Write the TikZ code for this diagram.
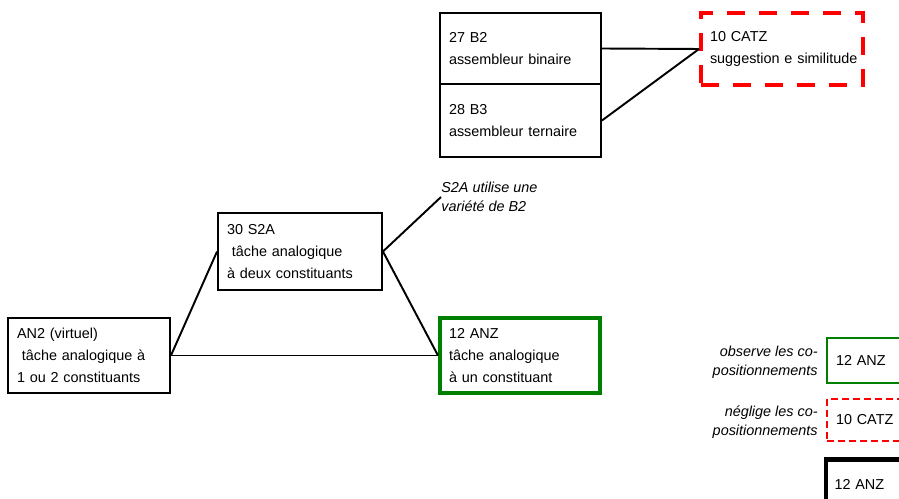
\documentclass[tikz,border=0pt]{standalone}
\usepackage{fontspec}
\setmainfont{Liberation Sans}
\usepackage{tikz}
\usetikzlibrary{positioning}
\definecolor{boxgreen}{RGB}{0,128,0}
\definecolor{boxred}{RGB}{255,0,0}

\begin{document}
\begin{tikzpicture}[
    x=0.02cm, y=-0.02cm,
    every node/.style={font=\fontsize{8.2}{12.5}\selectfont},
    taskbox/.style={rectangle, draw=black, line width=1.1pt, align=left,
        inner xsep=0.18cm, inner ysep=0pt},
    seenbox/.style={taskbox, draw=boxgreen, line width=2.3pt},
    skipbox/.style={taskbox, draw=boxred, line width=2.3pt,
        dash pattern=on 0.36cm off 0.28cm},
    notetext/.style={font=\itshape\fontsize{8.2}{11}\selectfont, inner sep=0pt},
    link/.style={line width=1.1pt}
]
    \useasboundingbox (0,0) rectangle (899,499);
    \clip (0,0) rectangle (899,499);

    % assembleurs
    \node[taskbox, text width=2.86cm, minimum height=1.42cm] (b2) at (520.5,48.5)
        {27 B2\\assembleur binaire};
    \node[taskbox, text width=2.86cm, minimum height=1.46cm] (b3) at (520.5,120.5)
        {28 B3\\assembleur ternaire};
    \node[skipbox, text width=2.88cm, minimum height=1.44cm] (catz) at (782,49)
        {10 CATZ\\\mbox{suggestion e similitude}};
    \draw[link] (b2.east) -- (catz.west);
    \draw[link] (b3.east) -- (catz.west);

    % taches analogiques
    \node[taskbox, text width=2.92cm, minimum height=1.54cm] (s2a) at (300,251.5)
        {30 S2A\\\ tâche analogique\\à deux constituants};
    \node[taskbox, text width=2.88cm, minimum height=1.5cm] (an2) at (89,355.5)
        {AN2 (virtuel)\\\ tâche analogique à\\1 ou 2 constituants};
    \node[seenbox, text width=2.84cm, minimum height=1.5cm] (anz) at (520,355.5)
        {12 ANZ\\tâche analogique\\à un constituant};
    \node[notetext, anchor=west, align=left] (note) at (441,197)
        {S2A utilise une\\variété de B2};
    \draw[link] (an2.east) -- (s2a.west);
    \draw[link] (an2.east) -- (anz.west);
    \draw[link] (s2a.east) -- (anz.west);
    \draw[link] (s2a.east) -- (note.west);

    % legende
    \node[notetext, anchor=east, align=right] (obs) at (818,362)
        {observe les co-\\positionnements};
    \node[seenbox, line width=1.4pt, text width=2.3cm, minimum height=0.9cm]
        (legseen) at (893.5,360.5) {12 ANZ};
    \node[notetext, anchor=east, align=right] (neg) at (818,422)
        {néglige les co-\\positionnements};
    \node[skipbox, line width=1.4pt, dash pattern=on 0.14cm off 0.08cm,
        text width=2.3cm, minimum height=0.84cm] (legskip) at (893.5,420) {10 CATZ};
    \node[taskbox, line width=2.3pt, text width=2.3cm, minimum height=1.62cm,
        text depth=0.64cm] (legtask) at (892,500) {12 ANZ};
\end{tikzpicture}
\end{document}
